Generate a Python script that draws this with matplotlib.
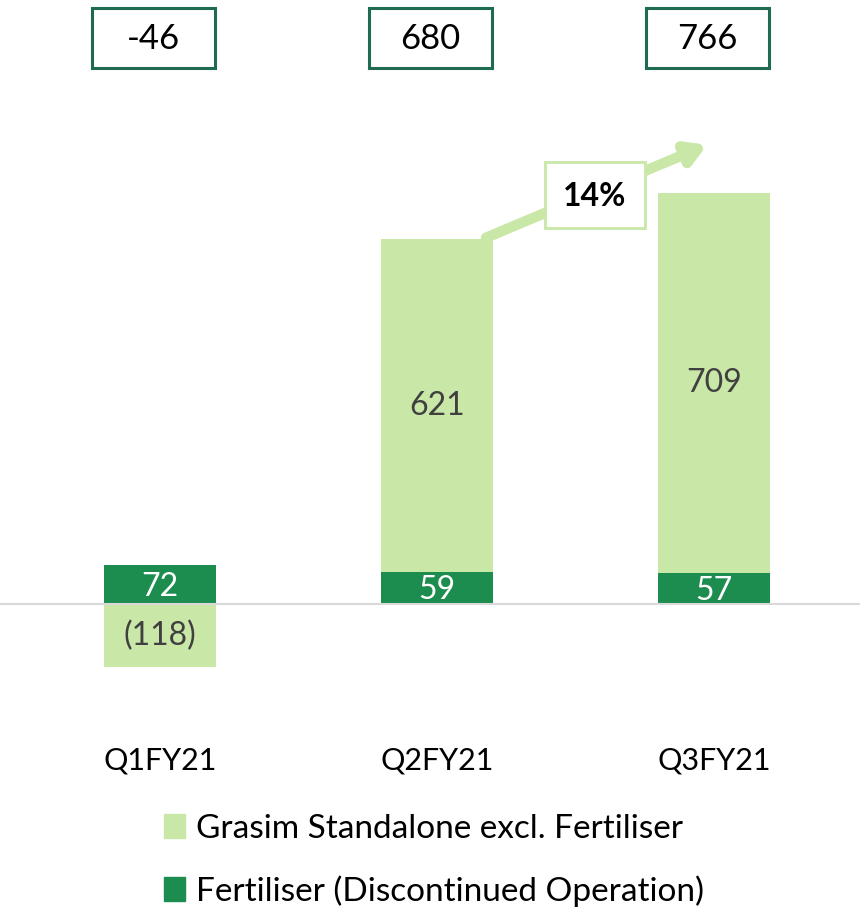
import matplotlib
matplotlib.use("Agg")
import matplotlib.pyplot as plt
from matplotlib.patches import Patch, Rectangle

plt.rcParams['font.family'] = ['Lato', 'DejaVu Sans']

quarters = ["Q1FY21", "Q2FY21", "Q3FY21"]
standalone = [-118, 621, 709]
fertiliser = [72, 59, 57]
totals = [-46, 680, 766]
standalone_labels = ["(118)", "621", "709"]
growth_label = "14%"

light_green = "#C9E7A7"
dark_green = "#1C8C4F"
box_edge = "#1E6B4F"

fig = plt.figure(figsize=(8.6, 9.07), dpi=100)
# zero line at ~604 px, ~0.537 px per unit
ax = fig.add_axes([0, 1 - 720 / 907, 1, 620 / 907])
x = range(len(quarters))
w = 112 / 277

# positive parts stack upward from 0, negative parts go downward
fert_bottom = [0 for _ in x]
stand_bottom = [f if s > 0 else 0 for s, f in zip(standalone, fertiliser)]
ax.bar(x, fertiliser, width=w, bottom=fert_bottom, color=dark_green, zorder=2)
ax.bar(x, standalone, width=w, bottom=stand_bottom, color=light_green, zorder=2)

ax.axhline(0, color="#D9D9D9", lw=1.5, zorder=3)
ax.set_xlim(-160 / 277, 700 / 277)
ax.set_ylim(-216, 938.5)

for i in x:
    ax.text(i, fertiliser[i] / 2 - 4, str(fertiliser[i]), ha="center", va="center",
            color="white", fontsize=23, zorder=4)
    ax.text(i, stand_bottom[i] + standalone[i] / 2, standalone_labels[i], ha="center",
            va="center", color="#404040", fontsize=23, zorder=4)

ax.set_xticks(list(x))
ax.set_xticklabels(quarters, fontsize=22)
ax.tick_params(axis="x", length=0, pad=19)
ax.set_yticks([])
for s in ax.spines.values():
    s.set_visible(False)

# totals boxes on top
for i in x:
    cx = (153 + 277 * i) / 860
    fig.patches.append(Rectangle((cx - 61 / 860, 1 - 68 / 907), 123 / 860, 60 / 907,
                                 transform=fig.transFigure, fc="white", ec=box_edge, lw=2.2))
    fig.text(cx, 1 - 39 / 907, str(totals[i]), ha="center", va="center",
             fontsize=25, color="black")

# growth arrow from Q2 to Q3
ax.annotate("", xy=(1.975, 855), xytext=(1.177, stand_bottom[1] + standalone[1] + 2),
            arrowprops=dict(arrowstyle="-|>,head_length=1.1,head_width=0.65", color=light_green,
                            lw=7.5, shrinkA=0, shrinkB=0), zorder=5)
ax.add_patch(Rectangle((1.39, 700), 0.361, 123, fc="white", ec=light_green, lw=2, zorder=6))
ax.text(1.570, 759, growth_label, ha="center", va="center", fontsize=23, fontweight="bold",
        zorder=7)

handles = [Patch(color=light_green, label="Grasim Standalone excl. Fertiliser"),
           Patch(color=dark_green, label="Fertiliser (Discontinued Operation)")]
fig.legend(handles=handles, loc="upper left", bbox_to_anchor=(164 / 860, 1 - 814 / 907),
           frameon=False, fontsize=24, handlelength=0.62, handleheight=0.72,
           handletextpad=0.35, labelspacing=0.93, borderpad=0, borderaxespad=0)

fig.savefig("out.png", dpi=100)
